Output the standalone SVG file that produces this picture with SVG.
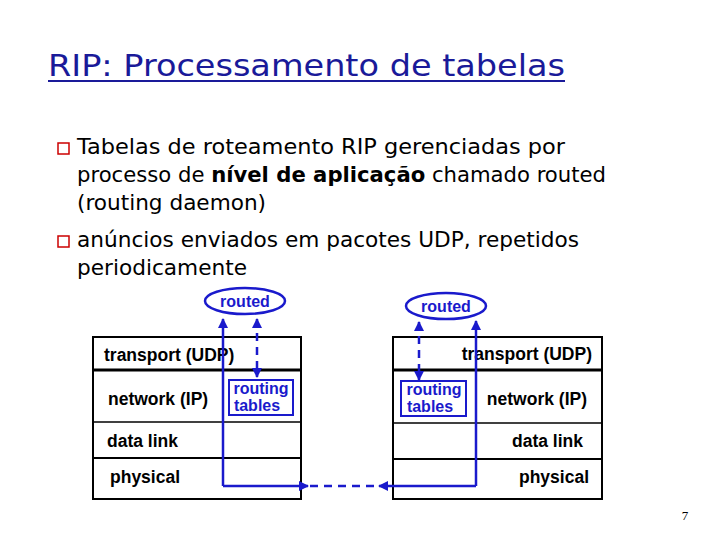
<svg xmlns="http://www.w3.org/2000/svg" width="720" height="540" viewBox="0 0 720 540">
<style>
.t{font-family:"DejaVu Sans",sans-serif;font-size:21px;fill:#000}
.l{font-family:"Liberation Sans",Arial,sans-serif;font-weight:bold;font-size:17.5px;fill:#000}
.b{font-family:"Liberation Sans",Arial,sans-serif;font-weight:bold;font-size:16px;fill:#1a1acc}
.box{fill:#fff;stroke:#000;stroke-width:2}
.blu{fill:none;stroke:#1a1acc;stroke-width:2.5}
.dash{stroke-dasharray:8,6}
</style>
<defs>
<marker id="a" viewBox="0 0 10 10" refX="9" refY="5" markerWidth="4" markerHeight="4" orient="auto-start-reverse"><path d="M0,0L10,5L0,10z" fill="#1a1acc"/></marker>
</defs>
<rect width="720" height="540" fill="#fff"/>
<g id="title">
<text x="48" y="76" textLength="517" lengthAdjust="spacingAndGlyphs" style="font-family:'DejaVu Sans',sans-serif;font-size:31px;fill:#1a1a99">RIP: Processamento de tabelas</text>
<line x1="48" y1="81" x2="565" y2="81" stroke="#1a1a99" stroke-width="2"/>
</g>
<g id="bullets">
<rect x="58" y="143" width="11" height="11" fill="none" stroke="#cc0000" stroke-width="1.5"/>
<rect x="58" y="236" width="11" height="11" fill="none" stroke="#cc0000" stroke-width="1.5"/>
<text class="t" x="77" y="154" textLength="488" lengthAdjust="spacingAndGlyphs">Tabelas de roteamento RIP gerenciadas por</text>
<text class="t" x="77" y="182" textLength="529" lengthAdjust="spacingAndGlyphs">processo de <tspan font-weight="bold">nível de aplicação</tspan> chamado routed</text>
<text class="t" x="77" y="210" textLength="189" lengthAdjust="spacingAndGlyphs">(routing daemon)</text>
<text class="t" x="77" y="247" textLength="502" lengthAdjust="spacingAndGlyphs">anúncios enviados em pacotes UDP, repetidos</text>
<text class="t" x="77" y="275" textLength="170" lengthAdjust="spacingAndGlyphs">periodicamente</text>
</g>
<g id="left-stack">
<rect class="box" x="93" y="337" width="208" height="162"/>
<line x1="93" y1="370" x2="301" y2="370" stroke="#000" stroke-width="3"/>
<line x1="93" y1="422" x2="301" y2="422" stroke="#000" stroke-width="1.5"/>
<line x1="93" y1="458" x2="301" y2="458" stroke="#000" stroke-width="2"/>
<text class="l" x="104" y="361">transport (UDP)</text>
<text class="l" x="108" y="405">network (IP)</text>
<text class="l" x="107" y="447">data link</text>
<text class="l" x="110" y="483">physical</text>
</g>
<g id="right-stack">
<rect class="box" x="393" y="337" width="209" height="162"/>
<line x1="393" y1="370" x2="602" y2="370" stroke="#000" stroke-width="3"/>
<line x1="393" y1="423" x2="602" y2="423" stroke="#000" stroke-width="1.5"/>
<line x1="393" y1="459" x2="602" y2="459" stroke="#000" stroke-width="2"/>
<text class="l" x="592" y="360" text-anchor="end">transport (UDP)</text>
<text class="l" x="587" y="405" text-anchor="end">network (IP)</text>
<text class="l" x="583" y="447" text-anchor="end">data link</text>
<text class="l" x="589" y="483" text-anchor="end">physical</text>
</g>
<g id="left-routed"><ellipse cx="245" cy="301" rx="40" ry="13" fill="#fff" stroke="#1a1acc" stroke-width="2.5"/><text class="b" x="245" y="307" text-anchor="middle">routed</text></g>
<g id="right-routed"><ellipse cx="446" cy="306" rx="40" ry="13" fill="#fff" stroke="#1a1acc" stroke-width="2.5"/><text class="b" x="446" y="312" text-anchor="middle">routed</text></g>
<g id="left-tables"><rect x="229" y="380" width="64" height="35" fill="#fff" stroke="#1a1acc" stroke-width="2"/><text class="b" x="261" y="394" text-anchor="middle">routing</text><text class="b" x="257" y="411" text-anchor="middle">tables</text></g>
<g id="right-tables"><rect x="401" y="381" width="65" height="35" fill="#fff" stroke="#1a1acc" stroke-width="2"/><text class="b" x="434" y="395" text-anchor="middle">routing</text><text class="b" x="430" y="412" text-anchor="middle">tables</text></g>
<g id="connectors">
<polyline class="blu" points="223,486 223,319" marker-end="url(#a)"/>
<polyline class="blu" points="223,486 308,486" marker-end="url(#a)"/>
<line class="blu dash" x1="310" y1="486" x2="377" y2="486"/>
<polyline class="blu" points="476,486 379,486" marker-end="url(#a)"/>
<polyline class="blu" points="476,486 476,321" marker-end="url(#a)"/>
<line class="blu dash" x1="257" y1="319" x2="257" y2="377" marker-start="url(#a)" marker-end="url(#a)"/>
<line class="blu dash" x1="419" y1="322" x2="419" y2="380" marker-start="url(#a)" marker-end="url(#a)"/>
</g>
<text x="685" y="520" text-anchor="middle" style="font-family:'Liberation Serif',serif;font-size:13px">7</text>
</svg>
